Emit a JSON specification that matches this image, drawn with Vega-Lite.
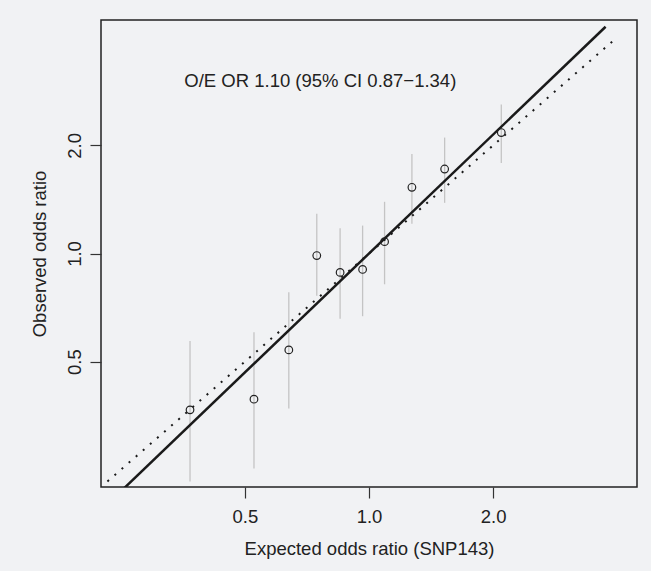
{
  "$schema": "https://vega.github.io/schema/vega-lite/v6.json",
  "width": 536,
  "height": 467,
  "autosize": {"type": "none"},
  "padding": {"left": 101, "top": 20, "right": 14, "bottom": 84},
  "background": "#f1f2f4",
  "config": {
    "view": {"stroke": "#222222", "strokeWidth": 1.5, "fill": "#f1f2f4"},
    "font": "Liberation Sans"
  },
  "datasets": {
    "pts": [
      {"expected": 0.368, "observed": 0.367, "lo": 0.232, "hi": 0.571},
      {"expected": 0.526, "observed": 0.393, "lo": 0.252, "hi": 0.604},
      {"expected": 0.639, "observed": 0.539, "lo": 0.370, "hi": 0.780},
      {"expected": 0.747, "observed": 0.987, "lo": 0.763, "hi": 1.290},
      {"expected": 0.851, "observed": 0.886, "lo": 0.658, "hi": 1.175},
      {"expected": 0.965, "observed": 0.903, "lo": 0.669, "hi": 1.196},
      {"expected": 1.091, "observed": 1.079, "lo": 0.821, "hi": 1.393},
      {"expected": 1.271, "observed": 1.529, "lo": 1.211, "hi": 1.892},
      {"expected": 1.526, "observed": 1.719, "lo": 1.384, "hi": 2.103},
      {"expected": 2.094, "observed": 2.172, "lo": 1.786, "hi": 2.600}
    ],
    "identity": [
      {"expected": 0.232, "observed": 0.232},
      {"expected": 3.97, "observed": 3.97}
    ],
    "fit": [
      {"expected": 0.25, "observed": 0.2176},
      {"expected": 3.75, "observed": 4.28}
    ],
    "note": [
      {"expected": 0.762, "observed": 3.03, "label": "O/E OR 1.10 (95% CI 0.87−1.34)"}
    ]
  },
  "layer": [
    {
      "data": {"name": "pts"},
      "mark": {"type": "rule", "color": "#c4c4c4", "strokeWidth": 1.3},
      "encoding": {
        "x": {
          "field": "expected", "type": "quantitative",
          "scale": {"type": "log", "domain": [0.2238, 4.469], "nice": false, "zero": false},
          "axis": {
            "values": [0.5, 1, 2], "format": ".1f", "domain": false, "grid": false,
            "tickSize": 11, "tickColor": "#333333", "tickWidth": 1.2,
            "labelFontSize": 18.5, "labelColor": "#222222", "labelBaseline": "alphabetic",
            "labelPadding": 24.8, "labelFlush": false,
            "title": "Expected odds ratio (SNP143)", "titleFontSize": 18.5,
            "titleFontWeight": "normal", "titleColor": "#222222",
            "titleBaseline": "alphabetic", "titleY": 67.5
          }
        },
        "y": {
          "field": "lo", "type": "quantitative",
          "scale": {"type": "log", "domain": [0.2238, 4.469], "nice": false, "zero": false},
          "axis": {
            "values": [0.5, 1, 2], "format": ".1f", "domain": false, "grid": false,
            "tickSize": 11, "tickColor": "#333333", "tickWidth": 1.2,
            "labelFontSize": 18.5, "labelColor": "#222222", "labelAngle": -90,
            "labelAlign": "center", "labelBaseline": "alphabetic",
            "labelPadding": 9.3, "labelFlush": false,
            "title": "Observed odds ratio", "titleFontSize": 18.5,
            "titleFontWeight": "normal", "titleColor": "#222222",
            "titleBaseline": "alphabetic", "titleX": -56
          }
        },
        "y2": {"field": "hi"}
      }
    },
    {
      "data": {"name": "identity"},
      "mark": {"type": "line", "color": "#1a1a1a", "strokeWidth": 2, "strokeDash": [2, 7.4], "strokeCap": "butt", "clip": true},
      "encoding": {
        "x": {"field": "expected", "type": "quantitative", "scale": {"type": "log", "domain": [0.2238, 4.469], "nice": false, "zero": false}},
        "y": {"field": "observed", "type": "quantitative", "scale": {"type": "log", "domain": [0.2238, 4.469], "nice": false, "zero": false}}
      }
    },
    {
      "data": {"name": "fit"},
      "mark": {"type": "line", "color": "#1a1a1a", "strokeWidth": 2.5, "clip": true},
      "encoding": {
        "x": {"field": "expected", "type": "quantitative", "scale": {"type": "log", "domain": [0.2238, 4.469], "nice": false, "zero": false}},
        "y": {"field": "observed", "type": "quantitative", "scale": {"type": "log", "domain": [0.2238, 4.469], "nice": false, "zero": false}}
      }
    },
    {
      "data": {"name": "pts"},
      "mark": {"type": "point", "shape": "circle", "filled": false, "color": "#222222", "strokeWidth": 1.2, "size": 58, "opacity": 1},
      "encoding": {
        "x": {"field": "expected", "type": "quantitative", "scale": {"type": "log", "domain": [0.2238, 4.469], "nice": false, "zero": false}},
        "y": {"field": "observed", "type": "quantitative", "scale": {"type": "log", "domain": [0.2238, 4.469], "nice": false, "zero": false}}
      }
    },
    {
      "data": {"name": "note"},
      "mark": {"type": "text", "fontSize": 18.5, "color": "#222222", "align": "center", "baseline": "middle"},
      "encoding": {
        "x": {"field": "expected", "type": "quantitative", "scale": {"type": "log", "domain": [0.2238, 4.469], "nice": false, "zero": false}},
        "y": {"field": "observed", "type": "quantitative", "scale": {"type": "log", "domain": [0.2238, 4.469], "nice": false, "zero": false}},
        "text": {"field": "label"}
      }
    }
  ]
}
